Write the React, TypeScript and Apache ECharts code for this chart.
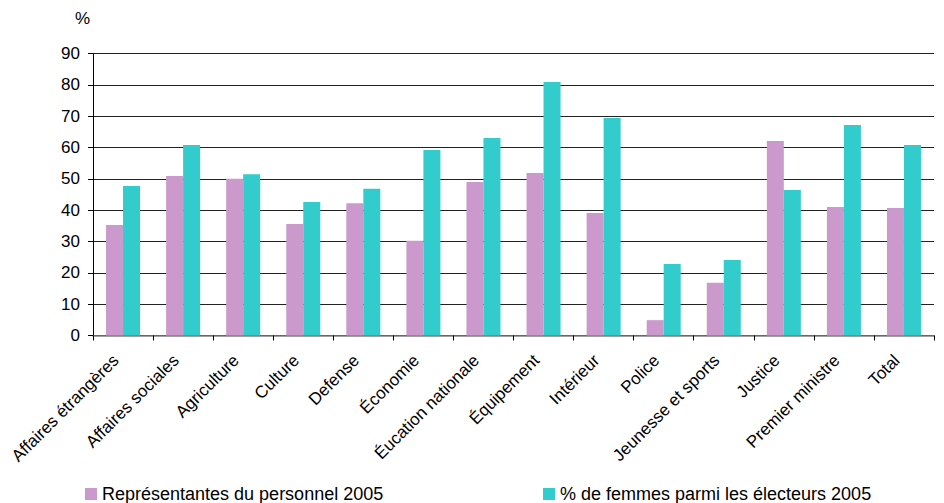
import React, { useEffect, useRef } from "react";
import * as echarts from "echarts";

const categories = [
  "Affaires étrangères",
  "Affaires sociales",
  "Agriculture",
  "Culture",
  "Defense",
  "Économie",
  "Éucation nationale",
  "Équipement",
  "Intérieur",
  "Police",
  "Jeunesse et sports",
  "Justice",
  "Premier ministre",
  "Total",
];

const representantes = [35.3, 50.9, 50.0, 35.6, 42.2, 30.2, 49.0, 51.9, 39.1, 4.9, 16.8, 62.1, 41.0, 40.7];
const electeurs = [47.7, 60.8, 51.5, 42.6, 46.8, 59.2, 63.0, 80.9, 69.4, 22.8, 24.1, 46.4, 67.2, 60.8];

const seriesNames = ["Représentantes du personnel 2005", "% de femmes parmi les électeurs 2005"];
const yTicks = { min: 0, max: 90, interval: 10 };

const FONT = "'Liberation Sans', Arial, sans-serif";

export default function App() {
  const ref = useRef<HTMLDivElement>(null);
  useEffect(() => {
    if (!ref.current) return;
    const chart = echarts.init(ref.current, null, { renderer: "svg" });
    const legendBase = {
      top: 485,
      padding: 0,
      itemWidth: 12,
      itemHeight: 12,
      icon: "rect",
      textStyle: { fontFamily: FONT, fontSize: 18, color: "#000" },
    };
    chart.setOption({
      animation: false,
      backgroundColor: "#fff",
      textStyle: { fontFamily: FONT },
      grid: { left: 93, right: 10, top: 53.5, bottom: 167.5, containLabel: false },
      legend: [
        { ...legendBase, data: [seriesNames[0]], left: 85 },
        { ...legendBase, data: [seriesNames[1]], left: 543 },
      ],
      graphic: [
        {
          type: "text",
          left: 75,
          top: 10,
          style: { text: "%", font: `17px ${FONT}`, fill: "#000" },
        },
      ],
      xAxis: {
        type: "category",
        data: categories,
        axisLine: { lineStyle: { color: "#808080", width: 1.5 } },
        axisTick: { show: true, length: 5, lineStyle: { color: "#000" }, interval: 0 },
        axisLabel: {
          rotate: 45,
          interval: 0,
          fontSize: 17,
          color: "#000",
          fontFamily: FONT,
          margin: 15,
          padding: [0, 10, 0, 0],
        },
      },
      yAxis: {
        type: "value",
        min: yTicks.min,
        max: yTicks.max,
        interval: yTicks.interval,
        axisLine: { show: true, lineStyle: { color: "#000" } },
        axisTick: { show: true, length: 5, lineStyle: { color: "#000" } },
        axisLabel: { fontSize: 17, color: "#000", fontFamily: FONT, margin: 13 },
        splitLine: { lineStyle: { color: "#222", width: 1 } },
      },
      series: [
        {
          name: seriesNames[0],
          type: "bar",
          data: representantes,
          barWidth: 17,
          barGap: "0%",
          itemStyle: { color: "#CC99CC" },
        },
        {
          name: seriesNames[1],
          type: "bar",
          data: electeurs,
          barWidth: 17,
          barGap: "0%",
          itemStyle: { color: "#33CCCC" },
        },
      ],
    });
    return () => chart.dispose();
  }, []);
  return (
    <div
      ref={ref}
      style={{ position: "fixed", left: 0, top: 0, width: 944, height: 503 }}
    />
  );
}
